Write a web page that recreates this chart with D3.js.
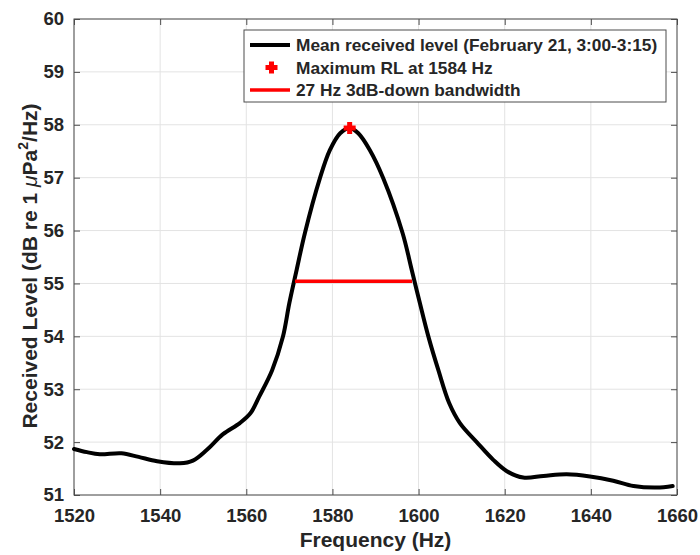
<!DOCTYPE html>
<html>
<head>
<meta charset="utf-8">
<script src="https://cdn.jsdelivr.net/npm/d3@7"></script>
<style>
  body { margin: 0; background: #fff; }
  text { font-family: "Liberation Sans", Arial, Helvetica, sans-serif; font-weight: bold; fill: #262626; }
</style>
</head>
<body>
<script>
// ------------------------------- Data ------------------------------- //
var freq = [1520, 1523, 1526, 1531, 1535, 1539.3, 1544.6, 1547.6, 1550.8, 1554.6,
            1558.5, 1561, 1563, 1566, 1568.5, 1570, 1571.7, 1573.6, 1577.1, 1579.4,
            1581.8, 1584, 1586, 1588.7, 1591.8, 1596.3, 1598.4, 1600.3, 1602.3, 1604.6,
            1607.1, 1609.6, 1613.5, 1617.4, 1620.5, 1624.3, 1629, 1634.4, 1639.8, 1645.2,
            1649.9, 1655.3, 1659];
var level = [51.87, 51.81, 51.77, 51.79, 51.72, 51.64, 51.60, 51.65, 51.85, 52.15,
             52.36, 52.55, 52.86, 53.36, 53.99, 54.63, 55.26, 55.95, 56.99, 57.52,
             57.84, 57.94, 57.84, 57.52, 56.99, 55.95, 55.26, 54.63, 53.99, 53.36,
             52.74, 52.36, 52.0, 51.66, 51.45, 51.33, 51.36, 51.39, 51.35, 51.27,
             51.17, 51.14, 51.17];
var peak = [1584, 57.94];
var bandwidth = [1571.3, 1598.5];
var bandLevel = 55.04;
var xTicks = [1520, 1540, 1560, 1580, 1600, 1620, 1640, 1660];
var yTicks = [51, 52, 53, 54, 55, 56, 57, 58, 59, 60];
var legendLabels = ["Mean received level (February 21, 3:00-3:15)",
                    "Maximum RL at 1584 Hz",
                    "27 Hz 3dB-down bandwidth"];

// ------------------------------- SVG -------------------------------- //
var margin = {left: 74, right: 23, top: 19, bottom: 60},
    width = 700 - margin.left - margin.right,
    height = 555 - margin.top - margin.bottom;

var svg = d3.select("body").append("svg")
    .attr("width", 700)
    .attr("height", 555);
var g = svg.append("g")
    .attr("transform", "translate(" + margin.left + "," + margin.top + ")");

var x = d3.scaleLinear().domain([1520, 1660]).range([0, width]);
var y = d3.scaleLinear().domain([51, 60]).range([height, 0]);

// grid
g.append("g").attr("class", "grid")
    .selectAll("line.v").data(xTicks).enter().append("line")
        .attr("x1", d => x(d)).attr("x2", d => x(d))
        .attr("y1", 0).attr("y2", height)
        .attr("stroke", "#e3e3e3").attr("stroke-width", 1);
g.append("g").attr("class", "grid")
    .selectAll("line.h").data(yTicks).enter().append("line")
        .attr("x1", 0).attr("x2", width)
        .attr("y1", d => y(d)).attr("y2", d => y(d))
        .attr("stroke", "#e3e3e3").attr("stroke-width", 1);

// axes
var axisColor = "#4d4d4d";
function styleAxis(sel) {
    sel.selectAll(".domain").remove();
    sel.selectAll(".tick line").attr("stroke", axisColor);
    sel.selectAll(".tick text")
        .attr("font-size", "18.5px")
        .attr("fill", "#262626");
}
g.append("g")
    .attr("transform", "translate(0," + height + ")")
    .call(d3.axisBottom(x).tickValues(xTicks).tickSize(-6).tickPadding(14).tickFormat(d3.format("d")))
    .call(styleAxis);
g.append("g")
    .call(d3.axisTop(x).tickValues(xTicks).tickSize(-6).tickFormat(""))
    .call(styleAxis);
g.append("g")
    .call(d3.axisLeft(y).tickValues(yTicks).tickSize(-6).tickPadding(10).tickFormat(d3.format("d")))
    .call(styleAxis);
g.append("g")
    .attr("transform", "translate(" + width + ",0)")
    .call(d3.axisRight(y).tickValues(yTicks).tickSize(-6).tickFormat(""))
    .call(styleAxis);

// box
g.append("rect")
    .attr("width", width).attr("height", height)
    .attr("fill", "none").attr("stroke", axisColor).attr("stroke-width", 1);

// axis labels
svg.append("text")
    .attr("x", margin.left + width / 2)
    .attr("y", 547)
    .attr("text-anchor", "middle")
    .attr("font-size", "21px")
    .text("Frequency (Hz)");

var yl = svg.append("text")
    .attr("transform", "translate(37,266) rotate(-90)")
    .attr("text-anchor", "middle")
    .attr("font-size", "21px");
yl.append("tspan").text("Received Level (dB re 1 ");
yl.append("tspan").attr("font-style", "italic").attr("font-weight", "normal").text("\u03bc");
yl.append("tspan").text("Pa");
yl.append("tspan").attr("font-size", "14px").attr("dy", "-9").text("2");
yl.append("tspan").attr("dy", "9").text("/Hz)");

// curve
var line = d3.line()
    .x((d, i) => x(freq[i]))
    .y(d => y(d))
    .curve(d3.curveCatmullRom.alpha(0.5));
g.append("path")
    .datum(level)
    .attr("fill", "none")
    .attr("stroke", "#000")
    .attr("stroke-width", 4)
    .attr("stroke-linejoin", "round")
    .attr("stroke-linecap", "round")
    .attr("d", line);

// bandwidth line
g.append("line")
    .attr("x1", x(bandwidth[0])).attr("x2", x(bandwidth[1]))
    .attr("y1", y(bandLevel)).attr("y2", y(bandLevel))
    .attr("stroke", "#ff0000").attr("stroke-width", 3.5);

// peak marker
function plus(cx, cy, s) {
    return "M" + (cx - s) + "," + cy + "H" + (cx + s) + "M" + cx + "," + (cy - s) + "V" + (cy + s);
}
g.append("path")
    .attr("d", plus(x(peak[0]), y(peak[1]), 6))
    .attr("stroke", "#ff0000").attr("stroke-width", 5).attr("fill", "none");

// legend
var lg = svg.append("g").attr("class", "legend");
lg.append("rect")
    .attr("x", 244).attr("y", 30).attr("width", 422).attr("height", 72)
    .attr("fill", "#fff").attr("stroke", axisColor).attr("stroke-width", 1);
var rowY = [45, 67.5, 90];
lg.append("line").attr("x1", 250).attr("x2", 290).attr("y1", rowY[0]).attr("y2", rowY[0])
    .attr("stroke", "#000").attr("stroke-width", 4);
lg.append("path").attr("d", plus(271.5, rowY[1], 6))
    .attr("stroke", "#ff0000").attr("stroke-width", 5).attr("fill", "none");
lg.append("line").attr("x1", 250).attr("x2", 290).attr("y1", rowY[2]).attr("y2", rowY[2])
    .attr("stroke", "#ff0000").attr("stroke-width", 3.5);
lg.selectAll("text.lbl").data(legendLabels).enter().append("text")
    .attr("class", "lbl")
    .attr("x", 296)
    .attr("y", (d, i) => rowY[i])
    .attr("dy", "0.36em")
    .attr("font-size", "17.3px")
    .attr("fill", "#000")
    .text(d => d);
</script>
</body>
</html>
